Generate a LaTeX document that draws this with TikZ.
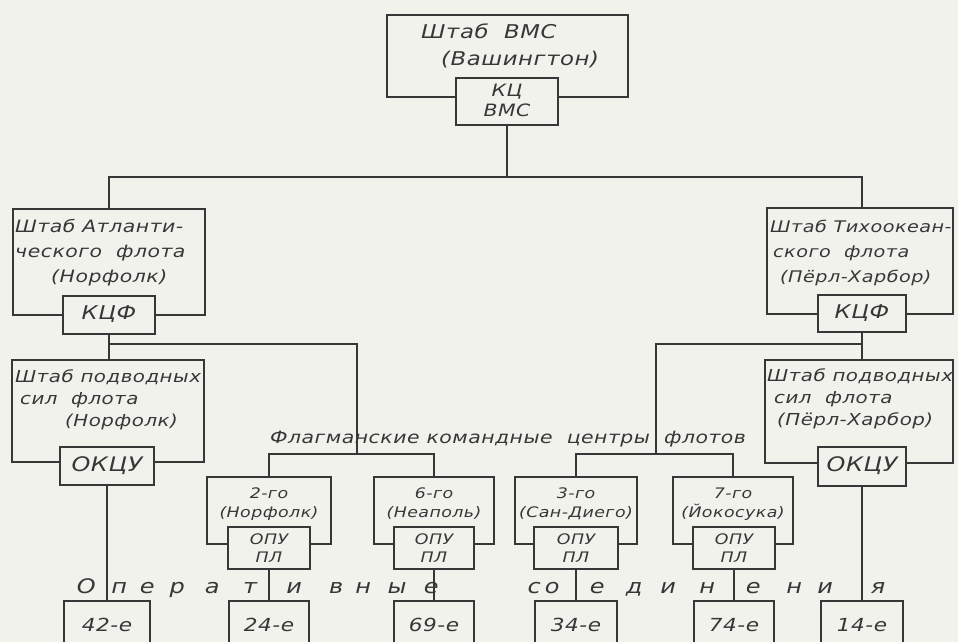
\documentclass[tikz,border=0pt]{standalone}
\usepackage{fontspec}
\setmainfont{DejaVu Sans}[FakeStretch=1.2,LetterSpace=3]
\definecolor{paper}{RGB}{242,242,237}
\definecolor{ink}{RGB}{55,55,55}
\newcommand{\fs}[2]{\fontsize{#1}{#2}\selectfont\itshape}
\newcommand{\lt}[1]{\makebox[0pt]{#1}}
\begin{document}
\begin{tikzpicture}[x=1pt,y=-1pt,
  box/.style={draw=ink,line width=1.1pt,fill=paper,inner sep=0pt},
  wire/.style={draw=ink,line width=1.1pt},
  txt/.style={text=ink,inner sep=0pt},
]
\fill[paper] (0,0) rectangle (958,642);
\useasboundingbox (0,0) rectangle (958,642);
% helper coordinates
\coordinate (y177) at (0,177);
\coordinate (y344) at (0,344);
\coordinate (y454) at (0,454);
\coordinate (x357) at (357,0);
\coordinate (x656) at (656,0);
% boxes
\node[box,minimum width=241pt,minimum height=82pt] (hq) at (507.5,56) {};
\node[box,minimum width=102pt,minimum height=47pt] (kc) at (507,101.5) {};
\node[box,minimum width=192pt,minimum height=106pt] (atl) at (109,262) {};
\node[box,minimum width=92pt,minimum height=38pt] (atlk) at (109,315) {};
\node[box,minimum width=186pt,minimum height=106pt] (pac) at (860,261) {};
\node[box,minimum width=88pt,minimum height=37pt] (pack) at (862,313.5) {};
\node[box,minimum width=192pt,minimum height=102pt] (subL) at (108,411) {};
\node[box,minimum width=94pt,minimum height=38pt] (subLk) at (107,466) {};
\node[box,minimum width=188pt,minimum height=103pt] (subR) at (859,411.5) {};
\node[box,minimum width=88pt,minimum height=39pt] (subRk) at (862,466.5) {};
\node[box,minimum width=124pt,minimum height=67pt] (f2) at (269,510.5) {};
\node[box,minimum width=82pt,minimum height=42pt] (f2k) at (269,548) {};
\node[box,minimum width=120pt,minimum height=67pt] (f6) at (434,510.5) {};
\node[box,minimum width=80pt,minimum height=42pt] (f6k) at (434,548) {};
\node[box,minimum width=122pt,minimum height=67pt] (f3) at (576,510.5) {};
\node[box,minimum width=84pt,minimum height=42pt] (f3k) at (576,548) {};
\node[box,minimum width=120pt,minimum height=67pt] (f7) at (733,510.5) {};
\node[box,minimum width=82pt,minimum height=42pt] (f7k) at (734,548) {};
\node[box,minimum width=86pt,minimum height=64pt] (b42) at (107,633) {};
\node[box,minimum width=80pt,minimum height=64pt] (b24) at (269,633) {};
\node[box,minimum width=80pt,minimum height=64pt] (b69) at (434,633) {};
\node[box,minimum width=82pt,minimum height=64pt] (b34) at (576,633) {};
\node[box,minimum width=80pt,minimum height=64pt] (b74) at (734,633) {};
\node[box,minimum width=82pt,minimum height=64pt] (b14) at (862,633) {};
% connectors
\draw[wire] (kc.south) -- (kc.south |- y177);
\draw[wire] (atl.north) |- (kc.south |- y177) -| (pack |- pac.north);
\draw[wire] (atlk.south) -- (atlk.south |- subL.north);
\draw[wire] (atlk.south |- y344) -| (x357 |- y454);
\draw[wire] (f2.north) |- (x357 |- y454) -| (f6.north);
\draw[wire] (pack.south) -- (pack.south |- subR.north);
\draw[wire] (pack.south |- y344) -| (x656 |- y454);
\draw[wire] (f3.north) |- (x656 |- y454) -| (f7.north);
\draw[wire] (subLk.south) -- (subLk.south |- b42.north);
\draw[wire] (subRk.south) -- (subRk.south |- b14.north);
\draw[wire] (f2k.south) -- (f2k.south |- b24.north);
\draw[wire] (f6k.south) -- (f6k.south |- b69.north);
\draw[wire] (f3k.south) -- (f3k.south |- b34.north);
\draw[wire] (f7k.south) -- (f7k.south |- b74.north);
% texts
\node[txt,anchor=north west,align=left,font=\fs{19}{27}] (thq) at (421,24) {Штаб\ \ ВМС\\\hspace*{20pt}(Вашингтон)};
\node[txt,align=center,font=\fs{17}{20}] (tkc) at (507,100) {КЦ\\ВМС};
\node[txt,anchor=north west,align=left,font=\fs{17}{25}] (tatl) at (15,219) {Штаб Атланти-\\ческого\ \ флота\\\hspace*{36pt}(Норфолк)};
\node[txt,anchor=north west,align=left,font=\fs{16}{25}] (tpac) at (770,220) {Штаб Тихоокеан-\\\hspace*{3pt}ского\ \ флота\\\hspace*{10pt}(Пёрл-Харбор)};
\node[txt,anchor=north west,align=left,font=\fs{16.5}{22}] (tsubL) at (15,369) {Штаб подводных\\\hspace*{5pt}сил\ \ флота\\\hspace*{50pt}(Норфолк)};
\node[txt,anchor=north west,align=left,font=\fs{16.5}{22}] (tsubR) at (767,368) {Штаб подводных\\\hspace*{7pt}сил\ \ флота\\\hspace*{10pt}(Пёрл-Харбор)};
\node[txt,font=\fs{19}{20}] (tatlk) at (109,314) {КЦФ};
\node[txt,font=\fs{19}{20}] (tpack) at (862,313) {КЦФ};
\node[txt,font=\fs{20}{20}] (tsubLk) at (107,466) {ОКЦУ};
\node[txt,font=\fs{20}{20}] (tsubRk) at (862,466) {ОКЦУ};
\node[txt,align=center,font=\fs{14.5}{19}] (tf2) at (269,504) {2-го\\(Норфолк)};
\node[txt,align=center,font=\fs{14.5}{19}] (tf6) at (434,504) {6-го\\(Неаполь)};
\node[txt,align=center,font=\fs{14.5}{19}] (tf3) at (576,504) {3-го\\(Сан-Диего)};
\node[txt,align=center,font=\fs{14.5}{19}] (tf7) at (733,504) {7-го\\(Йокосука)};
\node[txt,align=center,font=\fs{14.5}{18}] (tf2k) at (269,548) {ОПУ\\ПЛ};
\node[txt,align=center,font=\fs{14.5}{18}] (tf6k) at (434,548) {ОПУ\\ПЛ};
\node[txt,align=center,font=\fs{14.5}{18}] (tf3k) at (576,548) {ОПУ\\ПЛ};
\node[txt,align=center,font=\fs{14.5}{18}] (tf7k) at (734,548) {ОПУ\\ПЛ};
\node[txt,font=\fs{18}{20}] (tb42) at (107,625) {42-е};
\node[txt,font=\fs{18}{20}] (tb24) at (269,625) {24-е};
\node[txt,font=\fs{18}{20}] (tb69) at (434,625) {69-е};
\node[txt,font=\fs{18}{20}] (tb34) at (576,625) {34-е};
\node[txt,font=\fs{18}{20}] (tb74) at (734,625) {74-е};
\node[txt,font=\fs{18}{20}] (tb14) at (862,625) {14-е};
\node[txt,anchor=base,font=\fs{17}{20}] (tflag) at (508,443) {Флагманские\ командные\ \ центры\ \ флотов};
\node[txt,anchor=base west,font=\fs{20}{20}] (top1) at (86,593) {\lt{О}\hspace{33pt}\lt{п}\hspace{28pt}\lt{е}\hspace{30pt}\lt{р}\hspace{35pt}\lt{а}\hspace{38pt}\lt{т}\hspace{44pt}\lt{и}\hspace{42pt}\lt{в}\hspace{27pt}\lt{н}\hspace{34pt}\lt{ы}\hspace{34pt}\lt{е}};
\node[txt,anchor=base west,font=\fs{20}{20}] (top2) at (534,593) {\lt{с}\hspace{18pt}\lt{о}\hspace{45pt}\lt{е}\hspace{37pt}\lt{д}\hspace{34pt}\lt{и}\hspace{39pt}\lt{н}\hspace{46pt}\lt{е}\hspace{41pt}\lt{н}\hspace{31pt}\lt{и}\hspace{53pt}\lt{я}};
\end{tikzpicture}
\end{document}
